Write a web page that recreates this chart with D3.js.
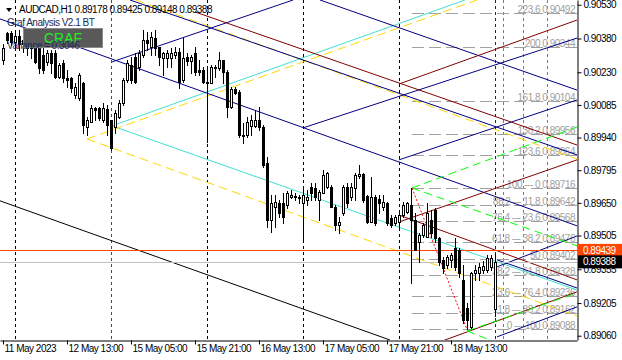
<!DOCTYPE html>
<html>
<head>
<meta charset="utf-8">
<script src="https://cdn.jsdelivr.net/npm/d3@7/dist/d3.min.js"></script>
<style>
body { margin: 0; background: #fff; }
svg text { font-family: "Liberation Sans", Arial, sans-serif; font-size: 10px; letter-spacing: -0.5px; }
</style>
</head>
<body>
<svg id="chart" width="622" height="360"></svg>
<script>
// AUDCAD H1 candles, bar 0 = 11 May 21:00
const opens = [0.90285,0.90404,0.90404,0.90365,0.90391,0.90356,0.90373,0.90338,0.90342,0.90338,
0.90307,0.90276,0.90316,0.90316,0.90209,0.90271,0.90205,0.90205,0.90129,0.90116,
0.90182,0.89987,0.90009,0.90071,0.90071,0.90018,0.90067,0.90018,0.89987,0.90032,
0.90094,0.90196,0.90262,0.90298,0.90254,0.90307,0.90373,0.90342,0.90382,0.90342,
0.90293,0.90293,0.90293,0.90307,0.90320,0.90196,0.90298,0.90280,0.90316,0.90240,
0.90240,0.90187,0.90182,0.90254,0.90249,0.90285,0.90231,0.90076,0.90156,0.90143,
0.89952,0.89952,0.89992,0.89992,0.90018,0.89987,0.89827,0.89574,0.89632,0.89650,
0.89650,0.89641,0.89676,0.89681,0.89676,0.89650,0.89663,0.89721,0.89716,0.89663,
0.89694,0.89721,0.89721,0.89632,0.89552,0.89605,0.89721,0.89676,0.89716,0.89770,
0.89778,0.89681,0.89565,0.89676,0.89667,0.89632,0.89650,0.89583,0.89561,0.89565,
0.89596,0.89610,0.89641,0.89574,0.89477,0.89508,0.89499,0.89574,0.89619,0.89494,
0.89397,0.89374,0.89397,0.89450,0.89441,0.89308,0.89183,0.89099,0.89339,0.89339,
0.89352,0.89352,0.89366,0.89178];
const highs = [0.90356,0.90409,0.90413,0.90418,0.90418,0.90396,0.90391,0.90365,0.90351,0.90347,
0.90338,0.90329,0.90329,0.90329,0.90271,0.90285,0.90240,0.90209,0.90182,0.90227,
0.90187,0.90032,0.90085,0.90076,0.90076,0.90094,0.90085,0.90018,0.90063,0.90107,
0.90205,0.90285,0.90298,0.90316,0.90329,0.90418,0.90409,0.90409,0.90418,0.90342,
0.90320,0.90329,0.90338,0.90342,0.90338,0.90382,0.90316,0.90307,0.90342,0.90285,
0.90254,0.90254,0.90262,0.90262,0.90320,0.90285,0.90240,0.90165,0.90165,0.90151,
0.90005,0.90032,0.90040,0.90063,0.90076,0.89996,0.89854,0.89685,0.89685,0.89663,
0.89694,0.89703,0.89707,0.89694,0.89685,0.89716,0.89707,0.89738,0.89738,0.89707,
0.89796,0.89787,0.89730,0.89641,0.89588,0.89730,0.89738,0.89738,0.89783,0.89818,
0.89783,0.89685,0.89765,0.89685,0.89685,0.89685,0.89654,0.89596,0.89596,0.89605,
0.89654,0.89654,0.89716,0.89605,0.89516,0.89561,0.89650,0.89619,0.89627,0.89499,
0.89410,0.89419,0.89428,0.89494,0.89450,0.89374,0.89206,0.89343,0.89374,0.89383,
0.89392,0.89419,0.89419,0.89425];
const lows = [0.90267,0.90360,0.90351,0.90338,0.90329,0.90320,0.90307,0.90293,0.90271,0.90227,
0.90227,0.90262,0.90227,0.90205,0.90205,0.90187,0.90165,0.90143,0.90116,0.90107,
0.89960,0.89952,0.90009,0.90018,0.90018,0.90009,0.89952,0.89885,0.89960,0.90027,
0.90085,0.90187,0.90182,0.90182,0.90240,0.90298,0.90329,0.90307,0.90307,0.90262,
0.90218,0.90254,0.90254,0.90293,0.90160,0.90187,0.90262,0.90227,0.90218,0.90218,
0.90182,0.89921,0.90182,0.90209,0.90240,0.90182,0.90032,0.90071,0.90134,0.89943,
0.89916,0.89943,0.89952,0.89987,0.89974,0.89810,0.89543,0.89521,0.89543,0.89588,
0.89561,0.89627,0.89672,0.89663,0.89650,0.89485,0.89641,0.89663,0.89663,0.89574,
0.89694,0.89716,0.89632,0.89530,0.89516,0.89596,0.89632,0.89663,0.89663,0.89761,
0.89654,0.89561,0.89565,0.89552,0.89605,0.89619,0.89552,0.89543,0.89552,0.89543,
0.89588,0.89605,0.89294,0.89441,0.89388,0.89499,0.89499,0.89499,0.89477,0.89374,
0.89339,0.89361,0.89366,0.89352,0.89321,0.89117,0.89088,0.89095,0.89308,0.89308,
0.89339,0.89343,0.89352,0.89148];
const closes = [0.90338,0.90373,0.90365,0.90391,0.90356,0.90373,0.90338,0.90342,0.90276,0.90249,
0.90240,0.90316,0.90271,0.90209,0.90262,0.90205,0.90196,0.90160,0.90165,0.90218,
0.89996,0.90018,0.90071,0.90063,0.90027,0.90071,0.89996,0.89894,0.90049,0.90094,
0.90196,0.90271,0.90196,0.90187,0.90316,0.90373,0.90360,0.90387,0.90338,0.90298,
0.90316,0.90316,0.90316,0.90320,0.90187,0.90293,0.90280,0.90298,0.90231,0.90231,
0.90187,0.90182,0.90254,0.90249,0.90285,0.90231,0.90076,0.90156,0.90138,0.89952,
0.89947,0.90009,0.90018,0.90018,0.89987,0.89818,0.89574,0.89650,0.89654,0.89605,
0.89588,0.89694,0.89685,0.89676,0.89672,0.89685,0.89676,0.89694,0.89676,0.89699,
0.89774,0.89783,0.89632,0.89552,0.89565,0.89721,0.89650,0.89721,0.89774,0.89778,
0.89663,0.89565,0.89676,0.89561,0.89650,0.89654,0.89561,0.89552,0.89588,0.89596,
0.89641,0.89650,0.89574,0.89441,0.89508,0.89552,0.89605,0.89516,0.89494,0.89388,
0.89361,0.89410,0.89419,0.89366,0.89339,0.89130,0.89130,0.89339,0.89352,0.89366,
0.89370,0.89405,0.89405,0.89388];

const priceTicks = [0.90530,0.90380,0.90230,0.90085,0.89940,0.89795,0.89650,0.89505,0.89355,0.89205,0.89060];
const timeLabels = ["11 May 2023","12 May 13:00","15 May 05:00","15 May 21:00","16 May 13:00","17 May 05:00","17 May 21:00","18 May 13:00"];
const timeLabelBars = [0,16,32,48,64,80,96,112];

const daySeparatorBars = [3,51,75,99];
const weekStartBar = 27;
const currentBar = 123;
const projectionBars = [125,130,136];

const bidPrice = 0.89388;
const alertPrice = 0.89439;

// trend lines: [bar1, price1, bar2, price2]
const navyLines = [
  [-0.75,0.90467,143.5,0.89548],
  [27.25,0.90276,72.5,0.90551],
  [31.75,0.90551,143.5,0.89863],
  [75,0.89983,143.5,0.90382],
  [79.25,0.90551,143.5,0.90151],
  [99,0.89841,143.5,0.90107],
  [123.5,0.89397,143.5,0.89272],
  [123.5,0.89366,143.5,0.89503],
  [123.5,0.89055,143.5,0.89188]
];
const maroonLines = [
  [48,0.90498,143.5,0.89907],
  [99,0.90178,143.5,0.90462],
  [99,0.89565,143.5,0.89841],
  [99,0.89596,143.5,0.89308],
  [109.25,0.89033,143.5,0.89255]
];
const cyanLines = [
  [27.25,0.89992,115.5,0.90551],
  [27.25,0.89992,143.5,0.89263]
];
const goldLines = [
  [21,0.89934,118.5,0.90551],
  [21,0.89934,143.5,0.89148],
  [33.25,0.90551,143.5,0.89845]
];
const greenLines = [
  [102.25,0.89716,143.5,0.89987],
  [102.25,0.89716,143.5,0.89459],
  [116,0.89081,143.5,0.89250],
  [116,0.89081,121.75,0.89041]
];
const blackLines = [
  [-0.75,0.89659,96.75,0.89041]
];
const fibSwing = [102.25,0.89716,116,0.89088];
const fibLevels = [0,11.8,23.6,38.2,50,61.8,76.4,88.2,100,123.6,138.2,161.8,200,223.6];

const W = 577, H = 340;
const svg = d3.select("#chart");

const x = d3.scaleLinear().domain([-0.75, 143.5]).range([0, W]);
const y = d3.scaleLinear().domain([0.89041, 0.90551]).range([H, 0]);

svg.append("defs").append("clipPath").attr("id", "plot")
  .append("rect").attr("width", W).attr("height", H);

const plot = svg.append("g").attr("clip-path", "url(#plot)");

// vertical separators
const vline = (bar, color, dash) => {
  const xx = Math.round(x(bar)) + 0.5;
  plot.append("line").attr("x1", xx).attr("x2", xx).attr("y1", 0).attr("y2", H)
    .attr("stroke", color).attr("stroke-dasharray", dash);
};
daySeparatorBars.forEach(b => vline(b, "#000", "3,3"));
vline(weekStartBar, "#ff0000", "3,3");
vline(currentBar, "#800000", "3,3");
projectionBars.forEach(b => vline(b, "#1e90ff", "3,3"));

// fibo levels
const fibRange = fibSwing[1] - fibSwing[3];
fibLevels.forEach(lv => {
  const p = fibSwing[3] + fibRange * lv / 100;
  const yy = Math.round(y(p)) + 0.5;
  plot.append("line").attr("x1", x(fibSwing[0])).attr("x2", W).attr("y1", yy).attr("y2", yy)
    .attr("stroke", "#a0a0a0").attr("stroke-dasharray", "12,5");
  let lbl;
  if (lv > 100 || lv == 50) lbl = lv + "";
  else lbl = lv + " --- " + (Math.round((100 - lv) * 10) / 10);
  plot.append("text").attr("x", W - 2).attr("y", yy - 1).attr("text-anchor", "end")
    .attr("fill", "#a0a0a0").text(lbl + "  " + p.toFixed(5));
});

const drawLines = (arr, color, dash) => {
  plot.selectAll(null).data(arr).enter().append("line")
    .attr("x1", d => x(d[0])).attr("y1", d => y(d[1]))
    .attr("x2", d => x(d[2])).attr("y2", d => y(d[3]))
    .attr("stroke", color).attr("stroke-width", 1)
    .attr("stroke-dasharray", dash);
};
drawLines(blackLines, "#000", null);
drawLines(cyanLines, "#40e0d0", null);
drawLines(goldLines, "#ffd700", "9,5");
drawLines(navyLines, "#000080", null);
drawLines(maroonLines, "#800000", null);
drawLines(greenLines, "#00ff00", "8,5");
drawLines([fibSwing], "#ff0000", "2,2");

// price lines
[[alertPrice, "#ff4500"], [bidPrice, "#c0c0c0"]].forEach(([p, c]) => {
  const yy = Math.round(y(p)) + 0.5;
  plot.append("line").attr("x1", 0).attr("x2", W).attr("y1", yy).attr("y2", yy).attr("stroke", c);
});

// candles
const candles = d3.range(opens.length).map(i => ({i, o: opens[i], h: highs[i], l: lows[i], c: closes[i]}));
const cg = plot.append("g").attr("shape-rendering", "crispEdges");
candles.forEach(d => {
  const xc = Math.round(x(d.i));
  cg.append("line").attr("x1", xc + 0.5).attr("x2", xc + 0.5)
    .attr("y1", Math.round(y(d.h))).attr("y2", Math.round(y(d.l)) + 1).attr("stroke", "#000");
  const top = Math.round(y(Math.max(d.o, d.c)));
  const bot = Math.round(y(Math.min(d.o, d.c)));
  cg.append("rect").attr("x", xc - 0.5).attr("y", top + 0.5)
    .attr("width", 2).attr("height", Math.max(bot - top, 0))
    .attr("fill", d.c >= d.o ? "#fff" : "#000").attr("stroke", "#000");
});

// axes
const yAxis = d3.axisRight(y).tickValues(priceTicks).tickSize(4).tickSizeOuter(0)
  .tickFormat(d3.format(".5f"));
const ya = svg.append("g").attr("transform", `translate(${W + 0.5},0)`).call(yAxis);
ya.selectAll("text").attr("x", 6).attr("fill", "#000").style("font-size", "10px");

const xAxis = d3.axisBottom(x).tickValues(timeLabelBars).tickSize(4).tickSizeOuter(0)
  .tickFormat((d, i) => timeLabels[i]);
const xa = svg.append("g").attr("transform", `translate(0,${H + 0.5})`).call(xAxis);
xa.selectAll("text").attr("text-anchor", "start").attr("x", 1).attr("y", 4).attr("fill", "#000").style("font-size", "10px");
svg.selectAll(".domain").attr("stroke", "#000");
svg.selectAll(".tick line").attr("stroke", "#000");

// price boxes on the axis
[[alertPrice, "#ff4500"], [bidPrice, "#000"]].forEach(([p, c]) => {
  const yy = y(p);
  svg.append("rect").attr("x", W + 1).attr("y", yy - 6.5).attr("width", 45).attr("height", 13).attr("fill", c);
  svg.append("text").attr("x", W + 6).attr("y", yy + 3.5).attr("fill", "#fff").text(p.toFixed(5));
});

// header overlays
svg.append("path").attr("d", "M6,8 L12,8 L9,12 Z").attr("fill", "#000");
svg.append("text").attr("x", 19).attr("y", 13).attr("fill", "#000")
  .text("AUDCAD,H1  0.89178 0.89425 0.89148 0.89388");
svg.append("text").attr("x", 7).attr("y", 26).attr("fill", "#1c2a5a").text("Graf Analysis  V2.1 BT");
svg.append("rect").attr("x", 23.5).attr("y", 28.5).attr("width", 79).attr("height", 19)
  .attr("fill", "#595959").attr("stroke", "#8a8a8a");
svg.append("text").attr("x", 63).attr("y", 43).attr("text-anchor", "middle").attr("fill", "#22ee22")
  .style("font-size", "14px").style("letter-spacing", "0").text("CRAF");
svg.append("text").attr("x", 7).attr("y", 49).attr("fill", "#1c2a5a").text("Variance            = 0.3046");
</script>
</body>
</html>
